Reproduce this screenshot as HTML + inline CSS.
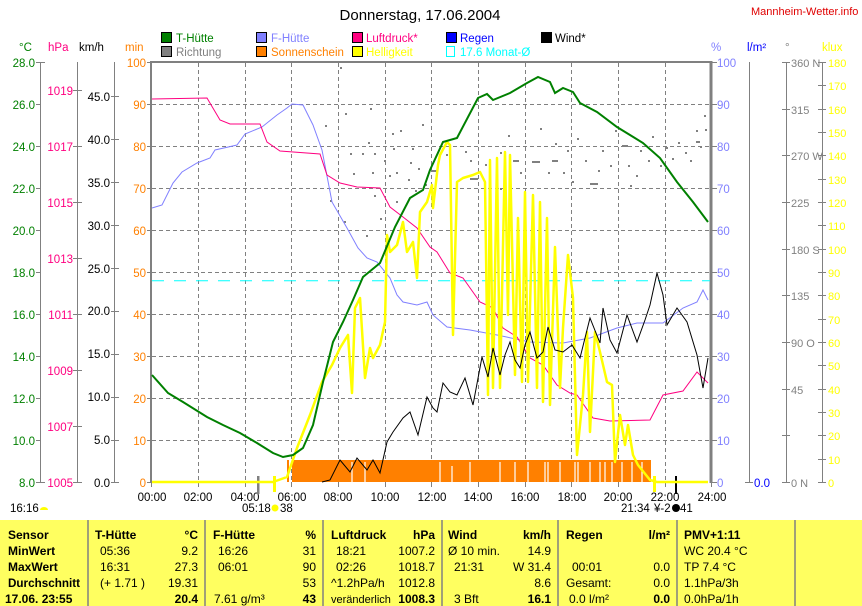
<!DOCTYPE html>
<html><head><meta charset="utf-8"><style>
body{margin:0;background:#fff;width:862px;height:606px;overflow:hidden;font-family:"Liberation Sans",sans-serif}
svg{position:absolute;left:0;top:0}
</style></head><body>
<svg width="862" height="606" viewBox="0 0 862 606" font-family="Liberation Sans, sans-serif" font-size="11.5">
<text x="420" y="20" font-size="15" text-anchor="middle">Donnerstag, 17.06.2004</text>
<text x="751" y="15" font-size="11" fill="#e00000">Mannheim-Wetter.info</text>
<g font-size="11.5">
<rect x="161.5" y="32.5" width="10" height="10" fill="#008000" stroke="#000"/><text x="176" y="42" fill="#008000">T-Hütte</text>
<rect x="256.5" y="32.5" width="10" height="10" fill="#8080ff" stroke="#000"/><text x="271" y="42" fill="#8080ff">F-Hütte</text>
<rect x="352.5" y="32.5" width="10" height="10" fill="#ff0080" stroke="#000"/><text x="366" y="42" fill="#ff0080">Luftdruck*</text>
<rect x="446.5" y="32.5" width="10" height="10" fill="#0000ff" stroke="#000"/><text x="460" y="42" fill="#0000ff">Regen</text>
<rect x="541.5" y="32.5" width="10" height="10" fill="#000" stroke="#000"/><text x="555" y="42" fill="#000">Wind*</text>
<rect x="161.5" y="46.5" width="10" height="10" fill="#808080" stroke="#000"/><text x="176" y="56" fill="#808080">Richtung</text>
<rect x="256.5" y="46.5" width="10" height="10" fill="#ff8000" stroke="#000"/><text x="271" y="56" fill="#ff8000">Sonnenschein</text>
<rect x="352.5" y="46.5" width="10" height="10" fill="#ffff00" stroke="#000"/><text x="366" y="56" fill="#ffff00">Helligkeit</text>
<rect x="446.5" y="46.5" width="8" height="10" fill="none" stroke="#00ffff"/><text x="460" y="56" fill="#00ffff">17.6 Monat-Ø</text>
</g>
<text x="19" y="51" fill="#008000">°C</text>
<text x="48" y="51" fill="#ff0080">hPa</text>
<text x="79" y="51" fill="#000">km/h</text>
<text x="125" y="51" fill="#ff8000">min</text>
<text x="711" y="51" fill="#8080ff">%</text>
<text x="747" y="51" fill="#0000ff">l/m²</text>
<text x="785" y="51" fill="#808080">°</text>
<text x="822" y="51" fill="#ffff00">klux</text>
<g stroke="#808080" stroke-width="1">
<line x1="40.5" y1="62" x2="40.5" y2="483"/><line x1="77.5" y1="62" x2="77.5" y2="483"/><line x1="114.5" y1="62" x2="114.5" y2="483"/>
<line x1="749.5" y1="62" x2="749.5" y2="483"/><line x1="786.5" y1="62" x2="786.5" y2="483"/><line x1="822.5" y1="62" x2="822.5" y2="483"/>
</g>
<g stroke="#808080" stroke-dasharray="4,3">
<line x1="152" y1="104.5" x2="710" y2="104.5"/><line x1="152" y1="146.5" x2="710" y2="146.5"/><line x1="152" y1="188.5" x2="710" y2="188.5"/><line x1="152" y1="230.5" x2="710" y2="230.5"/><line x1="152" y1="272.5" x2="710" y2="272.5"/><line x1="152" y1="314.5" x2="710" y2="314.5"/><line x1="152" y1="356.5" x2="710" y2="356.5"/><line x1="152" y1="398.5" x2="710" y2="398.5"/><line x1="152" y1="440.5" x2="710" y2="440.5"/>
<line x1="198.5" y1="63" x2="198.5" y2="482"/><line x1="245.5" y1="63" x2="245.5" y2="482"/><line x1="291.5" y1="63" x2="291.5" y2="482"/><line x1="338.5" y1="63" x2="338.5" y2="482"/><line x1="385.5" y1="63" x2="385.5" y2="482"/><line x1="431.5" y1="63" x2="431.5" y2="482"/><line x1="478.5" y1="63" x2="478.5" y2="482"/><line x1="525.5" y1="63" x2="525.5" y2="482"/><line x1="571.5" y1="63" x2="571.5" y2="482"/><line x1="618.5" y1="63" x2="618.5" y2="482"/><line x1="665.5" y1="63" x2="665.5" y2="482"/>
</g>
<line x1="150" y1="62" x2="712" y2="62" stroke="#808080" stroke-width="2"/>
<line x1="151" y1="61" x2="151" y2="483" stroke="#808080" stroke-width="2"/>
<line x1="711" y1="61" x2="711" y2="483" stroke="#808080" stroke-width="3"/>
<g fill="#008000" text-anchor="end">
<text x="35" y="67">28.0</text><text x="35" y="109">26.0</text><text x="35" y="151">24.0</text><text x="35" y="193">22.0</text><text x="35" y="235">20.0</text><text x="35" y="277">18.0</text><text x="35" y="319">16.0</text><text x="35" y="361">14.0</text><text x="35" y="403">12.0</text><text x="35" y="445">10.0</text><text x="35" y="487">8.0</text>
</g>
<g fill="#ff0080" text-anchor="end">
<text x="73" y="95">1019</text><text x="73" y="151">1017</text><text x="73" y="207">1015</text><text x="73" y="263">1013</text><text x="73" y="319">1011</text><text x="73" y="375">1009</text><text x="73" y="431">1007</text><text x="73" y="487">1005</text>
</g>
<g fill="#000" text-anchor="end">
<text x="110" y="101">45.0</text><text x="110" y="144">40.0</text><text x="110" y="187">35.0</text><text x="110" y="230">30.0</text><text x="110" y="273">25.0</text><text x="110" y="315">20.0</text><text x="110" y="358">15.0</text><text x="110" y="401">10.0</text><text x="110" y="444">5.0</text><text x="110" y="487">0.0</text>
</g>
<g fill="#ff8000" text-anchor="end">
<text x="146" y="67">100</text><text x="146" y="109">90</text><text x="146" y="151">80</text><text x="146" y="193">70</text><text x="146" y="235">60</text><text x="146" y="277">50</text><text x="146" y="319">40</text><text x="146" y="361">30</text><text x="146" y="403">20</text><text x="146" y="445">10</text><text x="146" y="487">0</text>
</g>
<g stroke="#808080">
<path d="M36 62.5h9M36 104.5h5M36 146.5h5M36 188.5h5M36 230.5h5M36 272.5h5M36 314.5h5M36 356.5h5M36 398.5h5M36 440.5h5M36 482.5h9"/>
<path d="M73 90.5h9M73 146.5h9M73 202.5h9M73 258.5h9M73 314.5h9M73 370.5h9M73 426.5h9M73 482.5h9"/>
<path d="M111 96.5h8M111 139.5h8M111 182.5h8M111 225.5h8M111 268.5h8M111 311.5h8M111 354.5h8M111 397.5h8M111 440.5h8M111 482.5h8"/>
<path d="M147 62.5h4M147 104.5h4M147 146.5h4M147 188.5h4M147 230.5h4M147 272.5h4M147 314.5h4M147 356.5h4M147 398.5h4M147 440.5h4M147 482.5h4"/>
<path d="M712 62.5h5M712 104.5h5M712 146.5h5M712 188.5h5M712 230.5h5M712 272.5h5M712 314.5h5M712 356.5h5M712 398.5h5M712 440.5h5M712 482.5h5"/>
<path d="M745 482.5h8"/>
<path d="M782 62.5h8M782 109.5h8M782 155.5h8M782 202.5h8M782 249.5h8M782 295.5h8M782 342.5h8M782 389.5h8M782 435.5h8M782 482.5h8"/>
<path d="M818 62.5h8M818 85.5h8M818 109.5h8M818 132.5h8M818 155.5h8M818 179.5h8M818 202.5h8M818 225.5h8M818 249.5h8M818 272.5h8M818 295.5h8M818 319.5h8M818 342.5h8M818 365.5h8M818 389.5h8M818 412.5h8M818 435.5h8M818 459.5h8M818 482.5h8"/>
</g>
<g fill="#8080ff">
<text x="717" y="67">100</text><text x="717" y="109">90</text><text x="717" y="151">80</text><text x="717" y="193">70</text><text x="717" y="235">60</text><text x="717" y="277">50</text><text x="717" y="319">40</text><text x="717" y="361">30</text><text x="717" y="403">20</text><text x="717" y="445">10</text><text x="717" y="487">0</text>
</g>
<text x="754" y="487" fill="#0000ff">0.0</text>
<g fill="#808080" font-size="11">
<text x="791" y="67">360 N</text><text x="791" y="114">315</text><text x="791" y="160">270 W</text><text x="791" y="207">225</text><text x="791" y="254">180 S</text><text x="791" y="300">135</text><text x="791" y="347">90  O</text><text x="791" y="394">45</text><text x="791" y="487">0   N</text>
</g>
<g fill="#ffff00" font-size="11">
<text x="828" y="67">180</text><text x="828" y="90">170</text><text x="828" y="114">160</text><text x="828" y="137">150</text><text x="828" y="160">140</text><text x="828" y="184">130</text><text x="828" y="207">120</text><text x="828" y="230">110</text><text x="828" y="254">100</text><text x="828" y="277">90</text><text x="828" y="300">80</text><text x="828" y="324">70</text><text x="828" y="347">60</text><text x="828" y="370">50</text><text x="828" y="394">40</text><text x="828" y="417">30</text><text x="828" y="440">20</text><text x="828" y="464">10</text><text x="828" y="487">0</text>
</g>
<g stroke="#808080"><path d="M151.5 482v5M198.5 482v5M245.5 482v5M291.5 482v5M338.5 482v5M385.5 482v5M431.5 482v5M478.5 482v5M525.5 482v5M571.5 482v5M618.5 482v5M665.5 482v5M711.5 482v5"/></g>
<g text-anchor="middle">
<text x="152" y="501">00:00</text><text x="198" y="501">02:00</text><text x="245" y="501">04:00</text><text x="292" y="501">06:00</text><text x="338" y="501">08:00</text><text x="385" y="501">10:00</text><text x="432" y="501">12:00</text><text x="478" y="501">14:00</text><text x="525" y="501">16:00</text><text x="572" y="501">18:00</text><text x="618" y="501">20:00</text><text x="665" y="501">22:00</text><text x="712" y="501">24:00</text>
</g>
<text x="242" y="512">05:18</text><circle cx="275" cy="508" r="3.5" fill="#ffff00"/><text x="280" y="512">38</text>
<text x="621" y="512">21:34</text><text x="654" y="512">¥-2</text><circle cx="676" cy="508" r="4" fill="#000"/><text x="680" y="512">41</text>
<text x="10" y="512">16:16</text><path d="M40 510a4 3 0 0 1 8 0z" fill="#ffff00"/>
<rect x="257" y="476" width="2.5" height="18" fill="#808080"/>
<rect x="273" y="476" width="3" height="16" fill="#ffff00"/>
<rect x="675" y="476" width="2" height="18" fill="#000"/>
<rect x="653" y="476" width="3" height="16" fill="#ffff00"/>
<rect x="292" y="460" width="359" height="22" fill="#ff8000"/>
<rect x="287" y="460" width="2" height="22" fill="#ff8000"/>
<g stroke="#fff" stroke-width="1.2"><path d="M352 462v20M365 462v20M440 462v20M452 466v16M470 462v20M500 462v20M515 462v20M528 462v20M545 462v20M548 462v20M560 462v20M575 462v20M578 462v20M590 462v20M600 462v20M605 462v20M612 462v20M622 462v20M632 462v20M642 462v20"/></g>
<line x1="152" y1="280.7" x2="710" y2="280.7" stroke="#00ffff" stroke-dasharray="12,10"/>
<g fill="#808080">
<rect x="340" y="67" width="2" height="2"/><rect x="325" y="125" width="2" height="2"/><rect x="345" y="113" width="2" height="2"/><rect x="370" y="108" width="2" height="2"/><rect x="350" y="153" width="2" height="2"/><rect x="362" y="153" width="2" height="2"/><rect x="368" y="142" width="2" height="2"/><rect x="374" y="153" width="2" height="2"/><rect x="353" y="173" width="2" height="2"/><rect x="372" y="172" width="2" height="2"/><rect x="384" y="160" width="2" height="2"/><rect x="389" y="175" width="2" height="2"/><rect x="396" y="172" width="2" height="2"/><rect x="392" y="133" width="2" height="2"/><rect x="400" y="130" width="2" height="2"/><rect x="393" y="148" width="2" height="2"/><rect x="412" y="148" width="2" height="2"/><rect x="410" y="162" width="2" height="2"/><rect x="418" y="168" width="2" height="2"/><rect x="425" y="184" width="2" height="2"/><rect x="415" y="190" width="2" height="2"/><rect x="422" y="124" width="2" height="2"/><rect x="408" y="179" width="2" height="2"/><rect x="432" y="170" width="6" height="2"/><rect x="380" y="218" width="2" height="2"/><rect x="396" y="201" width="2" height="2"/><rect x="374" y="195" width="2" height="2"/><rect x="366" y="235" width="2" height="2"/><rect x="330" y="200" width="2" height="2"/><rect x="344" y="221" width="2" height="2"/>
<rect x="446" y="154" width="2" height="2"/><rect x="465" y="151" width="2" height="2"/><rect x="470" y="160" width="2" height="2"/><rect x="485" y="164" width="2" height="2"/><rect x="470" y="178" width="8" height="2"/><rect x="500" y="152" width="2" height="2"/><rect x="508" y="135" width="2" height="2"/><rect x="513" y="160" width="6" height="2"/><rect x="520" y="172" width="2" height="2"/><rect x="532" y="161" width="8" height="2"/><rect x="548" y="172" width="2" height="2"/><rect x="552" y="160" width="6" height="2"/><rect x="555" y="143" width="2" height="2"/><rect x="563" y="172" width="2" height="2"/><rect x="572" y="181" width="2" height="2"/><rect x="567" y="150" width="2" height="2"/><rect x="577" y="138" width="2" height="2"/><rect x="585" y="160" width="2" height="2"/><rect x="590" y="183" width="8" height="2"/><rect x="598" y="170" width="2" height="2"/><rect x="602" y="150" width="2" height="2"/><rect x="610" y="165" width="2" height="2"/><rect x="615" y="130" width="2" height="2"/><rect x="622" y="145" width="6" height="2"/><rect x="628" y="165" width="2" height="2"/><rect x="636" y="175" width="2" height="2"/><rect x="640" y="150" width="2" height="2"/><rect x="648" y="160" width="2" height="2"/><rect x="652" y="136" width="2" height="2"/><rect x="660" y="165" width="2" height="2"/><rect x="666" y="147" width="2" height="2"/><rect x="672" y="158" width="2" height="2"/><rect x="678" y="142" width="2" height="2"/><rect x="685" y="152" width="2" height="2"/><rect x="690" y="160" width="2" height="2"/><rect x="696" y="130" width="2" height="2"/><rect x="700" y="146" width="2" height="2"/><rect x="705" y="129" width="2" height="2"/><rect x="704" y="115" width="2" height="2"/><rect x="696" y="141" width="4" height="2"/><rect x="540" y="128" width="2" height="2"/><rect x="500" y="188" width="2" height="2"/><rect x="630" y="185" width="2" height="2"/>
</g>
<polyline fill="none" stroke="#8080ff" stroke-width="1" points="152,208 162,205 173,183 182,172 197,163 210,158 215,150 237,145 245,134 262,127 277,115 287,108 292,104 303,105 313,125 322,150 332,202 347,228 358,248 367,258 377,262 390,278 397,295 403,302 417,305 427,302 433,315 447,327 470,330 497,335 530,342 563,343 590,338 617,328 637,323 663,323 683,308 697,302 703,290 708,300"/>
<polyline fill="none" stroke="#ff0080" stroke-width="1" points="152,99 207,98 220,120 230,124 260,124 267,142 280,151 320,154 327,175 340,183 357,187 380,188 390,207 403,217 417,228 430,247 437,252 450,273 463,278 480,302 493,308 503,328 517,337 530,358 543,365 557,385 570,393 577,395 593,418 610,421 650,420 663,395 683,391 697,372 708,383"/>
<polyline fill="none" stroke="#ffff00" stroke-width="2.5" stroke-linejoin="round" points="152,482 273,482 287,477 297,448 310,415 322,382 332,365 340,348 348,335 352,393 355,308 360,298 365,378 370,348 373,358 380,345 385,322 387,235 390,252 397,245 403,222 407,252 413,242 417,278 420,212 427,202 432,185 433,208 438,165 440,155 447,142 450,145 453,335 457,182 463,178 473,175 480,172 485,182 488,395 490,160 493,388 497,158 500,388 505,152 508,315 510,155 515,375 518,218 522,382 525,192 528,382 533,195 537,388 540,202 543,402 547,218 550,405 555,247 560,388 563,328 568,255 573,298 577,455 583,395 587,332 590,432 595,332 600,352 607,382 612,385 615,462 620,415 625,445 628,425 633,455 638,465 650,480 657,482 708,482"/>
<polyline fill="none" stroke="#000" stroke-width="1" points="322,482 330,480 340,460 350,472 357,458 367,470 373,460 380,473 387,442 393,432 403,418 410,412 418,435 427,397 433,408 437,412 443,383 450,392 457,395 465,378 473,405 482,357 488,377 493,348 500,375 505,355 510,342 515,360 520,368 525,345 530,332 537,358 543,352 548,327 555,350 563,352 572,345 580,358 590,318 600,343 603,308 610,340 617,353 627,315 637,342 645,320 650,305 657,273 663,295 667,325 677,308 687,322 697,355 703,388 708,358"/>
<polyline fill="none" stroke="#008000" stroke-width="2" points="152,375 168,393 183,402 207,417 223,425 240,433 257,443 273,453 283,457 293,455 303,448 313,425 323,382 333,342 343,322 353,300 363,277 380,263 395,227 410,198 423,190 430,170 443,142 457,138 478,98 487,94 493,100 510,93 527,83 538,77 550,82 555,93 563,88 573,92 580,103 597,112 617,127 630,135 643,143 660,158 677,182 693,202 708,222"/>
<rect x="0" y="520" width="862" height="86" fill="#ffff60"/>
<g stroke="#808080" stroke-width="1.5"><path d="M88 520v86M205 520v86M323 520v86M442 520v86M558 520v86M677 520v86M795 520v86"/></g>
<g font-size="12" fill="#000">
<g font-weight="bold"><text x="8" y="539">Sensor</text><text x="8" y="555">MinWert</text><text x="8" y="571">MaxWert</text><text x="8" y="587" textLength="72" lengthAdjust="spacingAndGlyphs">Durchschnitt</text><text x="5" y="603">17.06. 23:55</text>
<text x="95" y="539">T-Hütte</text><text x="213" y="539">F-Hütte</text><text x="331" y="539">Luftdruck</text><text x="448" y="539">Wind</text><text x="566" y="539">Regen</text><text x="684" y="539">PMV+1:11</text>
<g text-anchor="end"><text x="198" y="539">°C</text><text x="316" y="539">%</text><text x="435" y="539">hPa</text><text x="551" y="539">km/h</text><text x="670" y="539">l/m²</text>
<text x="198" y="603">20.4</text><text x="316" y="603">43</text><text x="435" y="603">1008.3</text><text x="551" y="603">16.1</text><text x="670" y="603">0.0</text></g></g>
<text x="100" y="555">05:36</text><text x="100" y="571">16:31</text><text x="100" y="587">(+ 1.71 )</text>
<text x="218" y="555">16:26</text><text x="218" y="571">06:01</text><text x="214" y="603">7.61 g/m³</text>
<text x="336" y="555">18:21</text><text x="336" y="571">02:26</text><text x="331" y="587">^1.2hPa/h</text><text x="331" y="603" font-size="11">veränderlich</text>
<text x="448" y="555">Ø 10 min.</text><text x="454" y="571">21:31</text><text x="454" y="603">3 Bft</text>
<text x="572" y="571">00:01</text><text x="566" y="587">Gesamt:</text><text x="569" y="603">0.0 l/m²</text>
<text x="684" y="555">WC 20.4 °C</text><text x="684" y="571">TP 7.4 °C</text><text x="684" y="587">1.1hPa/3h</text><text x="684" y="603">0.0hPa/1h</text>
<g text-anchor="end"><text x="198" y="555">9.2</text><text x="198" y="571">27.3</text><text x="198" y="587">19.31</text>
<text x="316" y="555">31</text><text x="316" y="571">90</text><text x="316" y="587">53</text>
<text x="435" y="555">1007.2</text><text x="435" y="571">1018.7</text><text x="435" y="587">1012.8</text>
<text x="551" y="555">14.9</text><text x="551" y="571">W 31.4</text><text x="551" y="587">8.6</text>
<text x="670" y="571">0.0</text><text x="670" y="587">0.0</text></g>
</g>
</svg>
</body></html>
